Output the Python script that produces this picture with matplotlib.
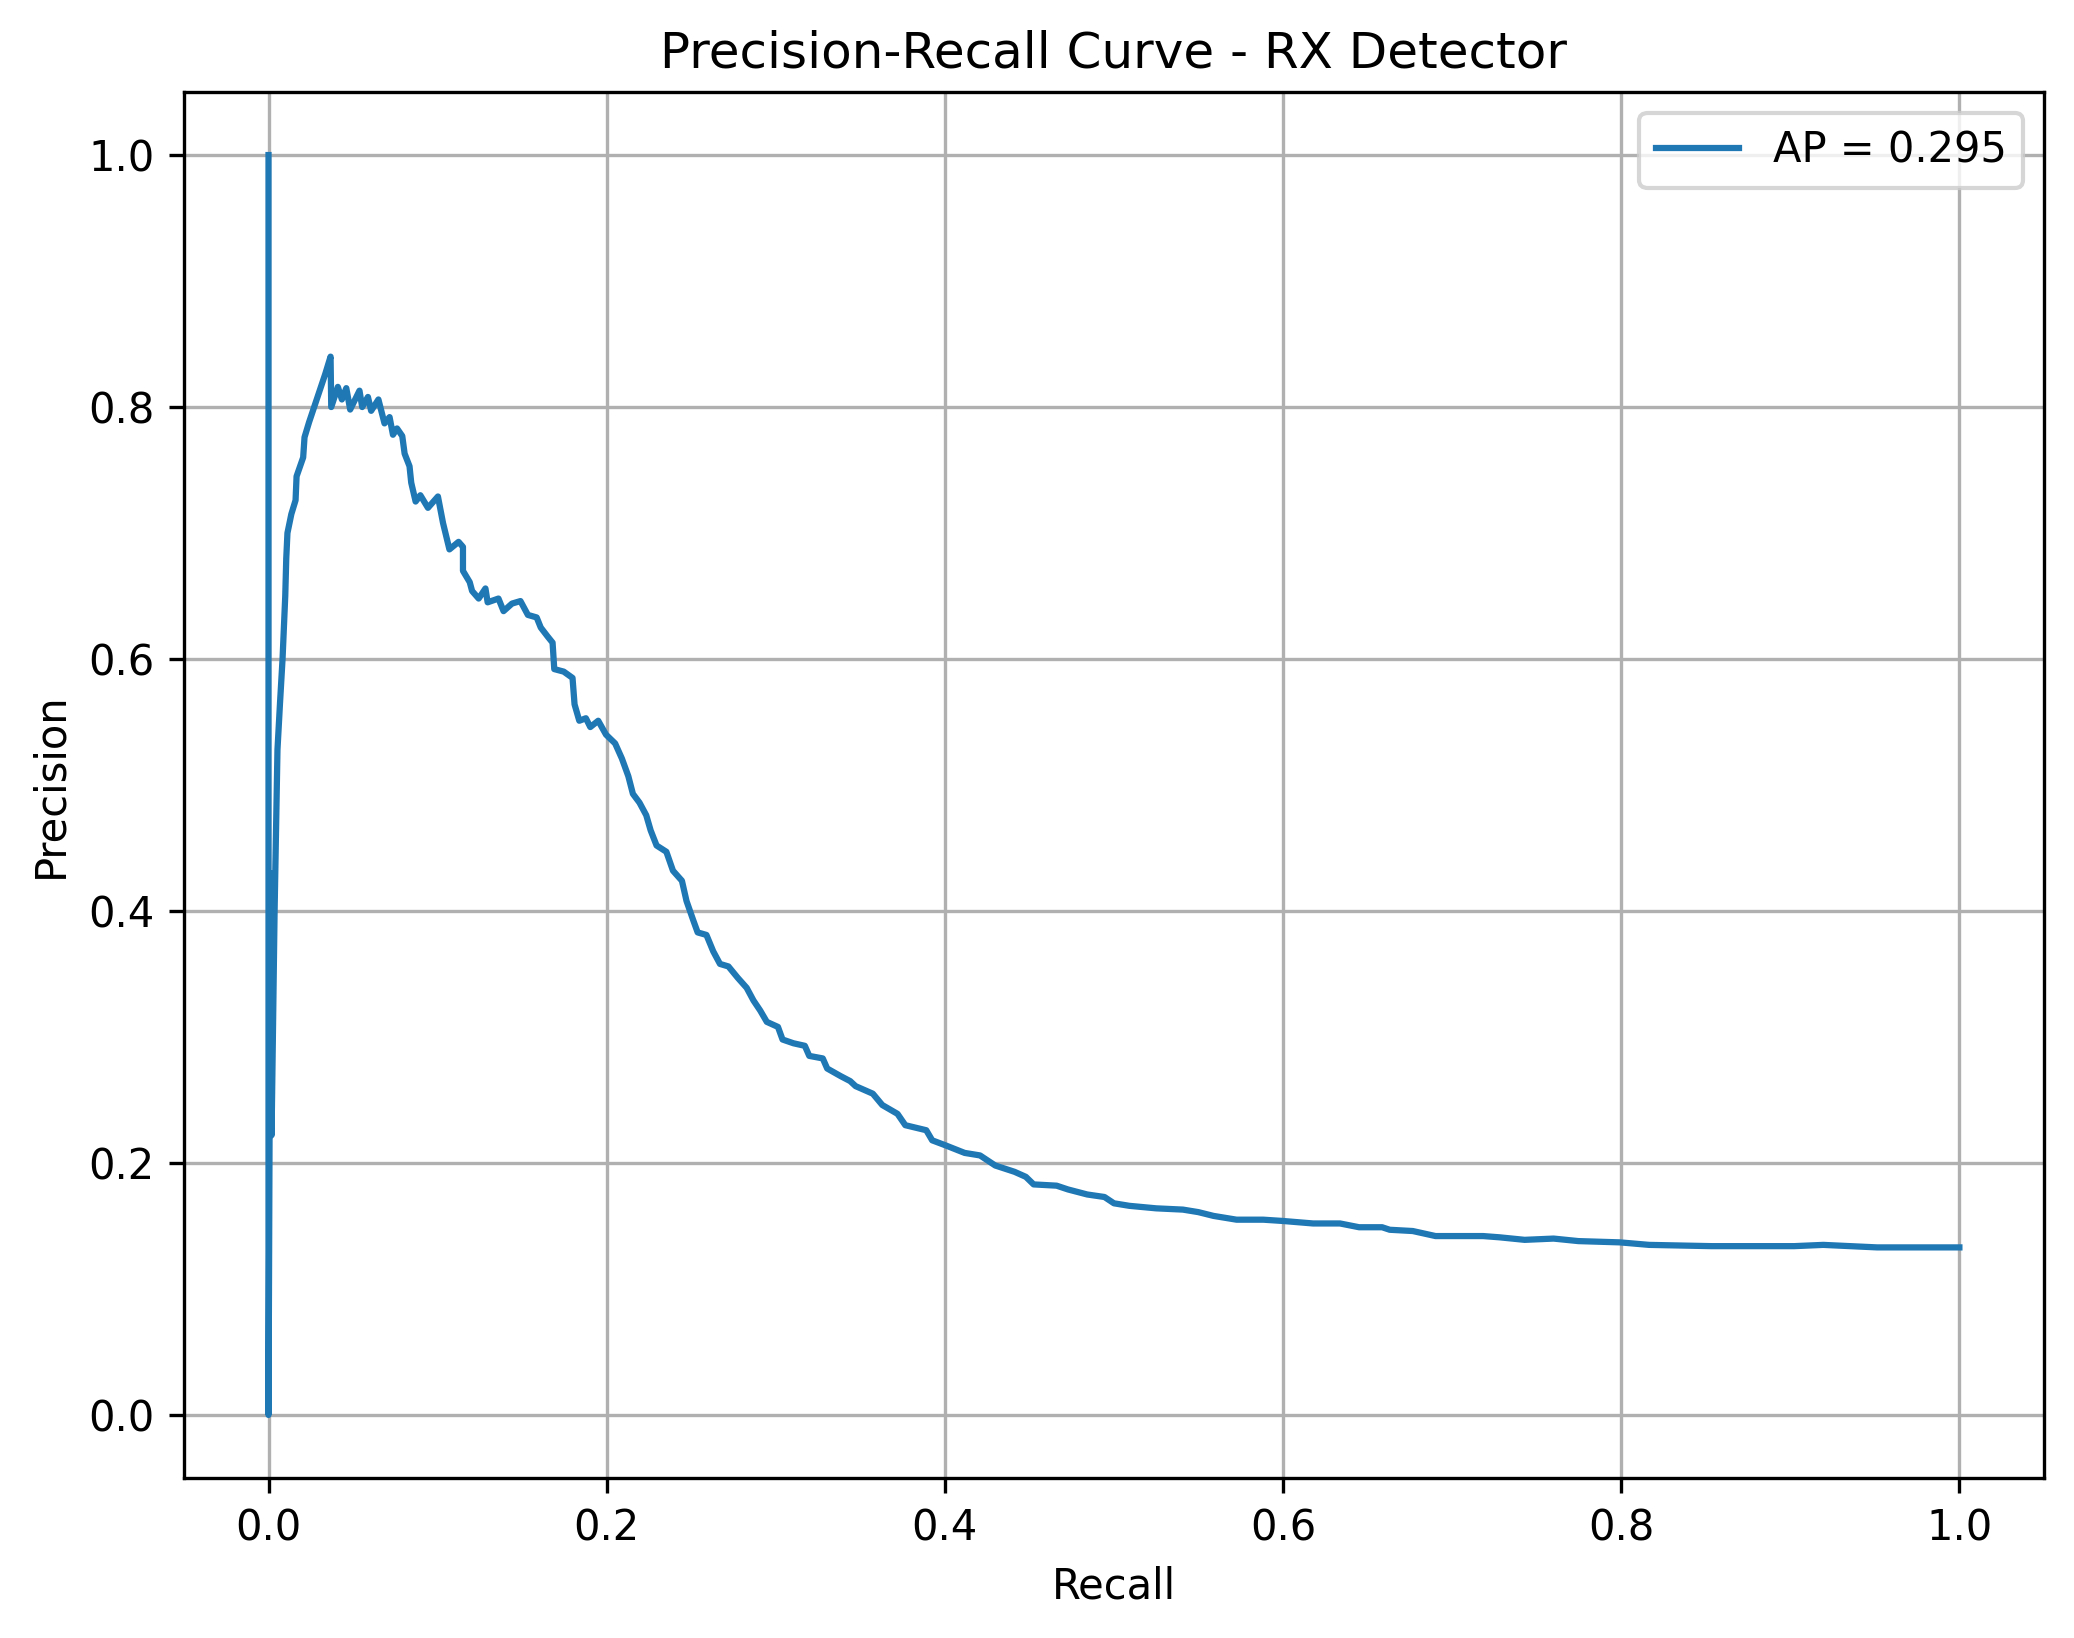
import matplotlib

matplotlib.use("Agg")

import matplotlib.pyplot as plt

# points, ordered by recall
recall = [
    0.0, 0.0, 0.0012, 0.0018, 0.0036, 0.0053, 0.0068, 0.0083, 0.0099,
    0.0105, 0.0112, 0.0135,
    0.0160, 0.0166, 0.0205, 0.0213, 0.0240, 0.0270, 0.0300, 0.0335,
    0.0367, 0.0371, 0.0410,
    0.0434, 0.0460, 0.0483, 0.0538, 0.0554, 0.0588, 0.0607, 0.0650,
    0.0686, 0.0716, 0.0736, 0.0760, 0.0791, 0.0805, 0.0834, 0.0844,
    0.0870, 0.0898, 0.0943, 0.1002, 0.1032, 0.1070, 0.1124, 0.1150,
    0.1150, 0.1190, 0.1204, 0.1243, 0.1283, 0.1296, 0.1360, 0.1390,
    0.1440, 0.1490, 0.1534, 0.1586, 0.1610, 0.1650, 0.1680, 0.1690,
    0.1746, 0.1798, 0.1810, 0.1838, 0.1877, 0.1903, 0.1950, 0.1996,
    0.2050, 0.2090, 0.2128, 0.2155, 0.2194, 0.2234, 0.2260, 0.2295,
    0.2353, 0.2392, 0.2445, 0.2472, 0.2511, 0.2538, 0.2590, 0.2630,
    0.2670, 0.2720, 0.2775, 0.2828, 0.2868, 0.2908, 0.2947, 0.3013,
    0.3040, 0.3105, 0.3172, 0.3198, 0.3278, 0.3304, 0.3383, 0.3440,
    0.3472, 0.3574, 0.3630, 0.3720, 0.3766, 0.3890, 0.3925, 0.4004,
    0.4117, 0.4208, 0.4298, 0.4412, 0.4479, 0.4525, 0.4661, 0.4728,
    0.4842, 0.4944, 0.5000, 0.5091, 0.5250, 0.5408, 0.5499, 0.5589,
    0.5725, 0.5883, 0.5997, 0.6178, 0.6337, 0.6450, 0.6586, 0.6631,
    0.6767, 0.6902, 0.7183, 0.7281, 0.7429, 0.7600, 0.7747, 0.7992,
    0.8165, 0.8533, 0.9023, 0.9195, 0.9514, 0.9685, 1.0,
]
precision = [
    1.0, 0.0, 0.430, 0.222, 0.400, 0.528, 0.565, 0.600, 0.650,
    0.680, 0.700, 0.715,
    0.726, 0.745, 0.760, 0.776, 0.788, 0.800, 0.812, 0.826,
    0.840, 0.800, 0.816,
    0.806, 0.815, 0.798, 0.813, 0.800, 0.808, 0.797, 0.806,
    0.787, 0.792, 0.778, 0.783, 0.777, 0.763, 0.753, 0.740,
    0.725, 0.730, 0.720, 0.729, 0.708, 0.687, 0.693, 0.689,
    0.670, 0.661, 0.654, 0.648, 0.656, 0.645, 0.648, 0.638,
    0.644, 0.646, 0.635, 0.633, 0.625, 0.618, 0.613, 0.592,
    0.590, 0.585, 0.564, 0.551, 0.553, 0.546, 0.551, 0.540,
    0.533, 0.521, 0.507, 0.493, 0.486, 0.476, 0.464, 0.452,
    0.447, 0.432, 0.424, 0.408, 0.393, 0.383, 0.381, 0.368,
    0.358, 0.356, 0.347, 0.339, 0.329, 0.321, 0.312, 0.308,
    0.298, 0.295, 0.293, 0.285, 0.283, 0.275, 0.269, 0.265,
    0.261, 0.255, 0.246, 0.239, 0.230, 0.226, 0.218, 0.214,
    0.208, 0.206, 0.198, 0.193, 0.189, 0.183, 0.182, 0.179,
    0.175, 0.173, 0.168, 0.166, 0.164, 0.163, 0.161, 0.158,
    0.155, 0.155, 0.154, 0.152, 0.152, 0.149, 0.149, 0.147,
    0.146, 0.142, 0.142, 0.141, 0.139, 0.140, 0.138, 0.137,
    0.135, 0.134, 0.134, 0.135, 0.133, 0.133, 0.133,
]
ap = 0.295

fig = plt.figure(figsize=(2074 / 300, 1638 / 300), dpi=300)
ax = fig.add_axes([0.0887, 0.0977, 0.8968, 0.8461])

ax.plot(recall, precision, label=f"AP = {ap:.3f}")
ax.set_xlabel("Recall")
ax.set_ylabel("Precision")
ax.set_title("Precision-Recall Curve - RX Detector")
ax.grid(True)
ax.legend(loc="upper right")

fig.savefig("out.png", dpi=300)
